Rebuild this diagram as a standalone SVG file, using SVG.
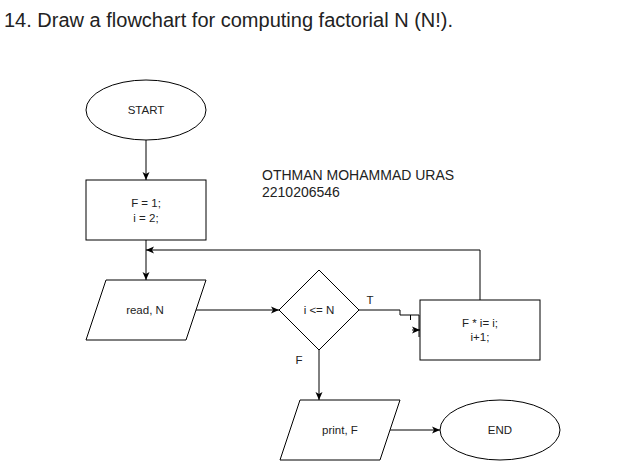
<svg xmlns="http://www.w3.org/2000/svg" width="631" height="461" viewBox="0 0 631 461">
<defs>
<marker id="arr" markerUnits="userSpaceOnUse" markerWidth="10" markerHeight="10" viewBox="0 0 10 10" refX="8" refY="5" orient="auto">
<path d="M0,1.5 L8,5 L0,8.5 L2,5 z" fill="#000"/>
</marker>
<style>
.shape{fill:#fff;stroke:#000;stroke-width:1}
.conn{fill:none;stroke:#000;stroke-width:1}
.t{font-family:"Liberation Sans",Arial,sans-serif;font-size:11.5px;fill:#222;text-anchor:middle}
.big{font-family:"Liberation Sans",Arial,sans-serif;fill:#222}
</style>
</defs>
<rect width="631" height="461" fill="#fff"/>
<text class="big" x="4" y="27" font-size="20">14. Draw a flowchart for computing factorial N (N!).</text>
<text class="big" x="262" y="180" font-size="14">OTHMAN MOHAMMAD URAS</text>
<text class="big" x="262" y="197" font-size="14">2210206546</text>
<g id="connectors">
<path class="conn" d="M146,140 V180" marker-end="url(#arr)"/>
<path class="conn" d="M146,240 V280" marker-end="url(#arr)"/>
<path class="conn" d="M480,300 V250 H146" marker-end="url(#arr)"/>
<path class="conn" d="M196,310 H279" marker-end="url(#arr)"/>
<path class="conn" d="M319,350 V400" marker-end="url(#arr)"/>
<path class="conn" d="M390,430 H440" marker-end="url(#arr)"/>
<path class="conn" d="M359,310 H400 V315 H419 V337"/>
<path class="conn" d="M410.5,315 V320"/>
<path class="conn" d="M412,330 H420" marker-end="url(#arr)"/>
<text class="t" x="370" y="304">T</text>
<text class="t" x="299" y="364">F</text>
</g>
<g id="start">
<ellipse class="shape" cx="146" cy="110" rx="60" ry="30"/>
<text class="t" x="146" y="114">START</text>
</g>
<g id="init">
<rect class="shape" x="86" y="180" width="120" height="60"/>
<text class="t" x="146" y="207">F = 1;</text>
<text class="t" x="146" y="222">i = 2;</text>
</g>
<g id="read">
<polygon class="shape" points="106,280 206,280 186,340 86,340"/>
<text class="t" x="145" y="314">read, N</text>
</g>
<g id="decision">
<polygon class="shape" points="319,270 359,310 319,350 279,310"/>
<text class="t" x="319" y="314">i &lt;= N</text>
</g>
<g id="update">
<rect class="shape" x="420" y="300" width="120" height="60"/>
<text class="t" x="480" y="327">F * i= i;</text>
<text class="t" x="480" y="341">i+1;</text>
</g>
<g id="print">
<polygon class="shape" points="300,400 400,400 380,460 280,460"/>
<text class="t" x="340" y="434">print, F</text>
</g>
<g id="end">
<ellipse class="shape" cx="500" cy="430" rx="60" ry="30"/>
<text class="t" x="500" y="434">END</text>
</g>
</svg>
